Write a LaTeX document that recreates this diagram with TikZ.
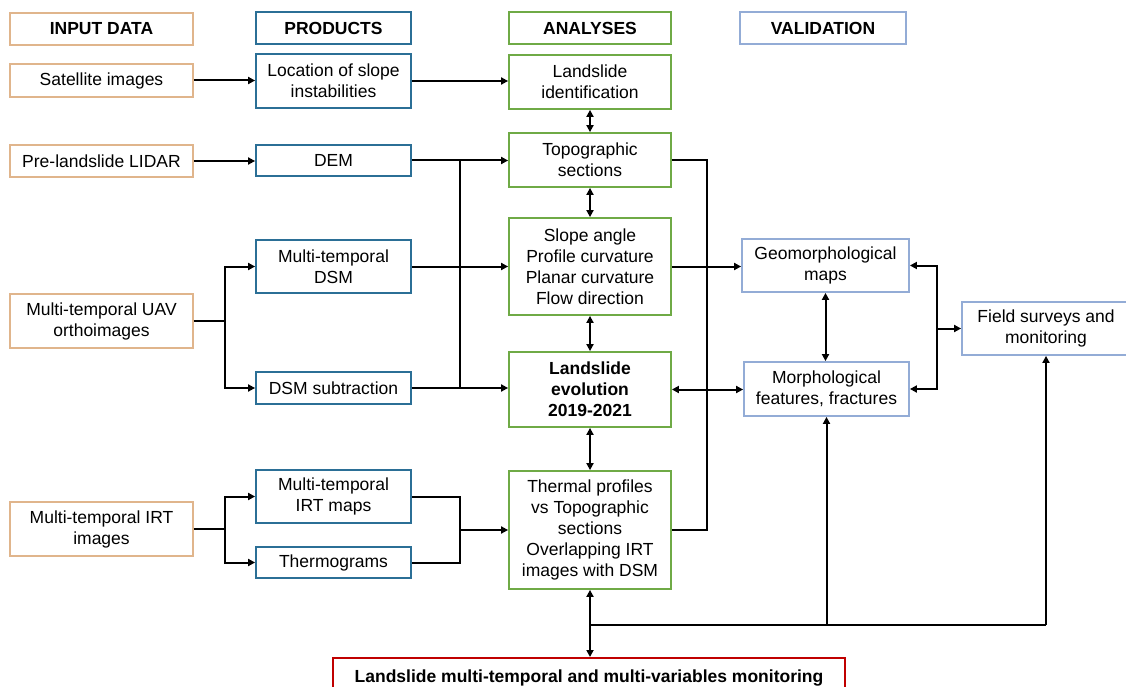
\documentclass[tikz,border=0pt]{standalone}
\usepackage{fontspec}
\setmainfont{Liberation Sans}
\usetikzlibrary{arrows.meta}
\definecolor{cin}{HTML}{E0B58C}
\definecolor{cpr}{HTML}{2B6F96}
\definecolor{can}{HTML}{6FAA46}
\definecolor{cva}{HTML}{93ACD6}
\definecolor{cmo}{HTML}{C00000}
\newcommand\mybox[7]{\node[#6, minimum width={#4-#2}, minimum height={#5-#3}] (#1) at ({(#2+#4)/2},{(#3+#5)/2}) {#7};}
\begin{document}
\begin{tikzpicture}[x=1pt,y=-1pt,
  box/.style={draw, line width=1.8pt, align=center, inner sep=0pt, font=\fontsize{17.5}{21}\selectfont},
  inbox/.style={box, draw=cin},
  prbox/.style={box, draw=cpr},
  anbox/.style={box, draw=can},
  vabox/.style={box, draw=cva},
  mobox/.style={box, draw=cmo, line width=2pt},
  hd/.style={font=\fontsize{17.5}{21}\selectfont\bfseries},
  ln/.style={line width=2pt},
  con/.style={ln, -{Triangle[length=7pt,width=7pt]}},
  dcon/.style={ln, {Triangle[length=7pt,width=7pt]}-{Triangle[length=7pt,width=7pt]}}
]
\useasboundingbox[fill=white] (0,0) rectangle (1126,687);
% headers
\mybox{hIn}{10}{13}{193}{45}{inbox,hd}{INPUT DATA}
\mybox{hPr}{256}{12}{411}{44}{prbox,hd}{PRODUCTS}
\mybox{hAn}{509}{12}{671}{44}{anbox,hd}{ANALYSES}
\mybox{hVa}{740}{12}{906}{44}{vabox,hd}{VALIDATION}
% input
\mybox{sat}{10}{64}{193}{97}{inbox}{Satellite images}
\mybox{lid}{10}{145}{193}{177}{inbox}{Pre-landslide LIDAR}
\mybox{uav}{10}{294}{193}{348}{inbox}{Multi-temporal UAV\\orthoimages}
\mybox{irt}{10}{502}{193}{556}{inbox}{Multi-temporal IRT\\images}
% products
\mybox{loc}{256}{54}{411}{108}{prbox}{Location of slope\\instabilities}
\mybox{dem}{256}{145}{411}{176}{prbox}{DEM}
\mybox{mdsm}{256}{240}{411}{293}{prbox}{Multi-temporal\\DSM}
\mybox{dsub}{256}{372}{411}{404}{prbox}{DSM subtraction}
\mybox{irtm}{256}{470}{411}{523}{prbox}{Multi-temporal\\IRT maps}
\mybox{therm}{256}{547}{411}{578}{prbox}{Thermograms}
% analyses
\mybox{lidid}{509}{55}{671}{109}{anbox}{Landslide\\identification}
\mybox{topo}{509}{133}{671}{187}{anbox}{Topographic\\sections}
\mybox{slope}{509}{218}{671}{315}{anbox}{Slope angle\\Profile curvature\\Planar curvature\\Flow direction}
\mybox{evol}{509}{352}{671}{427}{anbox,hd}{Landslide\\evolution\\2019-2021}
\mybox{thermp}{509}{471}{671}{589}{anbox}{Thermal profiles\\vs Topographic\\sections\\Overlapping IRT\\images with DSM}
% validation
\mybox{geo}{742}{239}{909}{292}{vabox}{Geomorphological\\maps}
\mybox{morph}{744}{362}{909}{416}{vabox}{Morphological\\features, fractures}
\mybox{field}{962}{302}{1130}{355}{vabox}{Field surveys and\\monitoring}
\mybox{mon}{333}{658}{845}{702}{mobox,hd}{\raisebox{8pt}{Landslide multi-temporal and multi-variables monitoring}}
% helper coordinates
\coordinate (dv) at (460,0);
\coordinate (rv) at (707,0);
\coordinate (fv) at (937,0);
\coordinate (bh) at (0,625);
% connectors
\draw[con] (sat.east) -- (sat.east -| loc.west);
\draw[con] (loc.east) -- (loc.east -| lidid.west);
\draw[con] (lid.east) -- (lid.east -| dem.west);
\draw[con] (dem.east) -- (dem.east -| topo.west);
\draw[con] (uav.east) -- ++(31,0) |- (mdsm.west);
\draw[con] (uav.east) -- ++(31,0) |- (dsub.west);
\draw[ln] (dem.east -| dv) -- (dsub.east -| dv);
\draw[con] (mdsm.east) -- (mdsm.east -| slope.west);
\draw[con] (dsub.east) -- (dsub.east -| evol.west);
\draw[con] (irt.east) -- ++(31,0) |- (irtm.west);
\draw[con] (irt.east) -- ++(31,0) |- (therm.west);
\draw[ln] (irtm.east) -| (dv |- therm.east) -- (therm.east);
\draw[con] (dv |- thermp.west) -- (thermp.west);
\draw[dcon] (lidid.south) -- (topo.north);
\draw[dcon] (topo.south) -- (slope.north);
\draw[dcon] (slope.south) -- (evol.north);
\draw[dcon] (evol.south) -- (thermp.north);
\draw[ln] (topo.east) -| (rv |- thermp.east) -- (thermp.east);
\draw[con] (slope.east) -- (slope.east -| geo.west);
\draw[dcon] (evol.east) -- (evol.east -| morph.west);
\draw[dcon] (geo.south) -- (geo.south |- morph.north);
\draw[con] (field.west -| fv) |- (geo.east);
\draw[con] (field.west -| fv) |- (morph.east);
\draw[con] (field.west -| fv) -- (field.west);
\draw[dcon] (thermp.south) -- (thermp.south |- mon.north);
\draw[ln] (thermp.south |- bh) -- (field.south |- bh);
\draw[con] (morph.south |- bh) -- (morph.south);
\draw[con] (field.south |- bh) -- (field.south);
\end{tikzpicture}
\end{document}
